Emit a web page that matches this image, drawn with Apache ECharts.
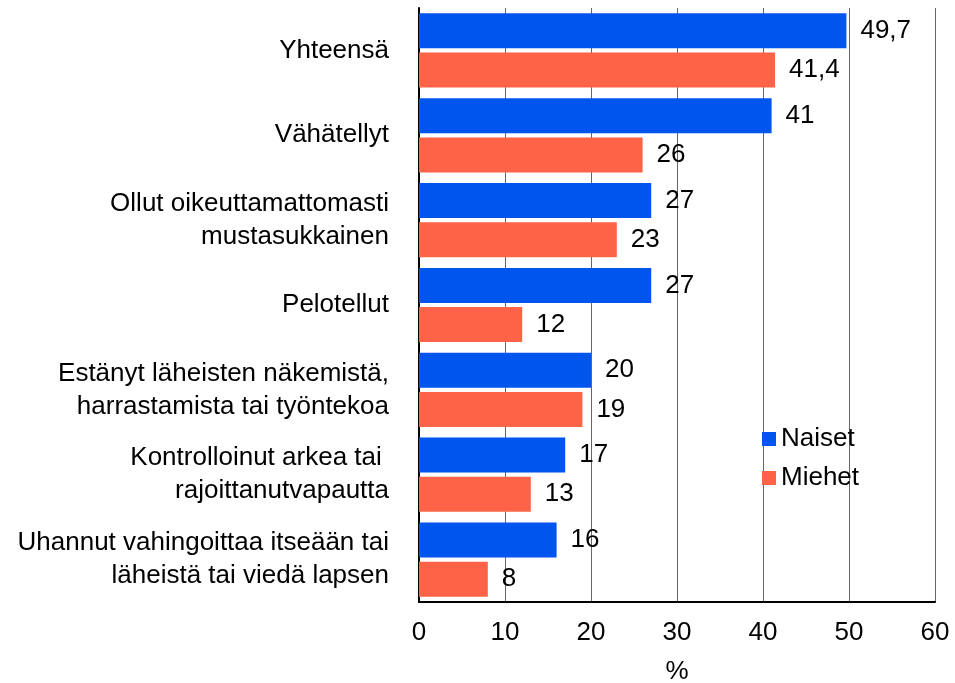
<!DOCTYPE html>
<html>
<head>
<meta charset="utf-8">
<script src="https://cdn.jsdelivr.net/npm/echarts@6/dist/echarts.min.js"></script>
<style>
  html, body { margin: 0; padding: 0; background: #fff; }
  #main { width: 955px; height: 683px; }
</style>
</head>
<body>
<div id="main"></div>
<script>
// kategoriat ylhäältä alas
const categories = [
  'Yhteensä',
  'Vähätellyt',
  'Ollut oikeuttamattomasti\nmustasukkainen',
  'Pelotellut',
  'Estänyt läheisten näkemistä,\nharrastamista tai työntekoa',
  'Kontrolloinut arkea tai \nrajoittanutvapautta',
  'Uhannut vahingoittaa itseään tai\nläheistä tai viedä lapsen'
];
const naiset = [49.7, 41, 27, 27, 20, 17, 16];
const miehet = [41.4, 26, 23, 12, 19, 13, 8];
const xTicks = [0, 10, 20, 30, 40, 50, 60];

const font = 'Liberation Sans, Arial, sans-serif';

const chart = echarts.init(document.getElementById('main'));

const valueLabel = {
  show: true,
  position: 'right',
  distance: 14,
  color: '#000',
  fontSize: 26,
  fontFamily: font,
  formatter: p => String(p.value).replace('.', ',')
};

chart.setOption({
  animation: false,
  legend: {
    orient: 'vertical',
    left: 757,
    top: 421,
    itemWidth: 14,
    itemHeight: 14,
    itemGap: 13,
    icon: 'rect',
    textStyle: { fontSize: 26, fontFamily: font, color: '#000' },
    data: ['Naiset', 'Miehet']
  },
  grid: { left: 419, right: 20, top: 8, bottom: 81, outerBoundsMode: 'none', containLabel: false },
  xAxis: {
    type: 'value',
    min: xTicks[0],
    max: xTicks[xTicks.length - 1],
    interval: 10,
    name: '%',
    nameLocation: 'middle',
    nameGap: 57,
    nameTextStyle: { fontSize: 26, fontFamily: font, color: '#000' },
    axisLine: { show: true, lineStyle: { color: '#000', width: 2 } },
    axisTick: { show: false },
    axisLabel: { margin: 18, fontSize: 26, fontFamily: font, color: '#000' },
    splitLine: { show: true, lineStyle: { color: '#666', width: 1 } }
  },
  yAxis: {
    type: 'category',
    inverse: true,
    data: categories,
    axisLine: { show: true, lineStyle: { color: '#000', width: 2 } },
    axisTick: { show: false },
    axisLabel: {
      margin: 30,
      fontSize: 26,
      lineHeight: 33,
      fontFamily: font,
      color: '#000',
      align: 'right'
    }
  },
  series: [
    {
      name: 'Naiset',
      type: 'bar',
      data: naiset,
      barWidth: 35,
      barGap: '12%',
      itemStyle: { color: '#0055EE' },
      label: valueLabel
    },
    {
      name: 'Miehet',
      type: 'bar',
      data: miehet,
      barWidth: 35,
      barGap: '12%',
      itemStyle: { color: '#FF6347' },
      label: valueLabel
    }
  ]
});
</script>
</body>
</html>
